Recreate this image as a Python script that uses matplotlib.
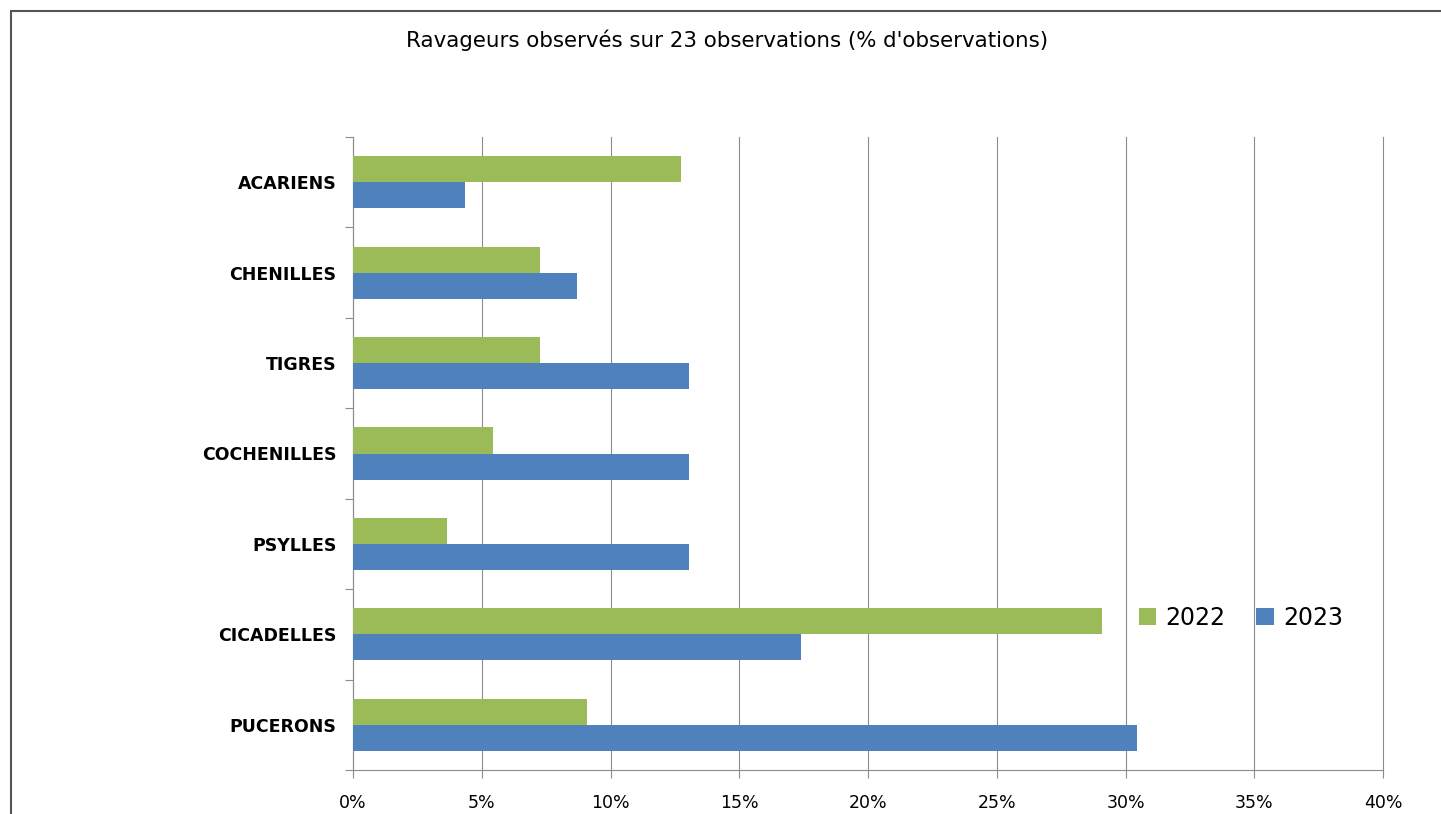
import matplotlib
matplotlib.use('Agg')
import matplotlib.pyplot as plt
from matplotlib.patches import Rectangle
from matplotlib.ticker import FixedLocator, PercentFormatter
import numpy as np

categories = ['PUCERONS', 'CICADELLES', 'PSYLLES', 'COCHENILLES', 'TIGRES', 'CHENILLES', 'ACARIENS']
val_2022 = [9.09, 29.09, 3.64, 5.45, 7.27, 7.27, 12.73]
val_2023 = [30.43, 17.39, 13.04, 13.04, 13.04, 8.70, 4.35]
xticks = [0, 5, 10, 15, 20, 25, 30, 35, 40]

green = '#9BBB59'
blue = '#4F81BD'
gridc = '#8C8C8C'

fig = plt.figure(figsize=(14.41, 8.14), dpi=100)
ax = fig.add_axes([353/1441, 1-770/814, (1383-353)/1441, (770-137)/814])

y = np.arange(len(categories))
h = 0.288
ax.barh(y + h/2, val_2022, height=h, color=green, label='2022', zorder=3)
ax.barh(y - h/2, val_2023, height=h, color=blue, label='2023', zorder=3)

ax.set_xlim(0, 40)
ax.set_ylim(-0.5, len(categories) - 0.5)
ax.set_xticks(xticks)
ax.xaxis.set_major_formatter(PercentFormatter(decimals=0))
ax.grid(True, axis='x', color=gridc, lw=0.8, zorder=0)
for gl in ax.get_xgridlines():
    gl.set_clip_on(False)
ax.set_yticks(y)
ax.set_yticklabels(categories, fontweight='bold', fontsize=12.5)
ax.yaxis.set_minor_locator(FixedLocator(np.arange(-0.5, len(categories), 1)))
ax.tick_params(axis='y', which='major', length=0, pad=12)
ax.tick_params(axis='y', which='minor', length=6, color=gridc, width=0.8)
ax.tick_params(axis='x', length=6, color=gridc, width=0.8, labelsize=12.5, pad=11)

for s in ['top', 'right']:
    ax.spines[s].set_visible(False)
for s in ['left', 'bottom']:
    ax.spines[s].set_color(gridc)
    ax.spines[s].set_linewidth(0.8)

ax.set_axisbelow(True)

fig.text(727/1441, 1-40/814, "Ravageurs observés sur 23 observations (% d'observations)",
         ha='center', va='center', fontsize=15.4)

handles, labels = ax.get_legend_handles_labels()
fig.legend(handles, labels, ncol=2, frameon=False, loc='center',
           bbox_to_anchor=(1241/1441, 1-618/814), fontsize=17,
           handlelength=0.75, handleheight=0.75, handletextpad=0.4, columnspacing=1.3)

fig.patches.append(Rectangle((11/1441, -0.1), 1.2, 1 - 11/814 + 0.1, transform=fig.transFigure,
                             fill=False, edgecolor='#555555', lw=1.5))

plt.savefig('out.png', dpi=100)
plt.close()
